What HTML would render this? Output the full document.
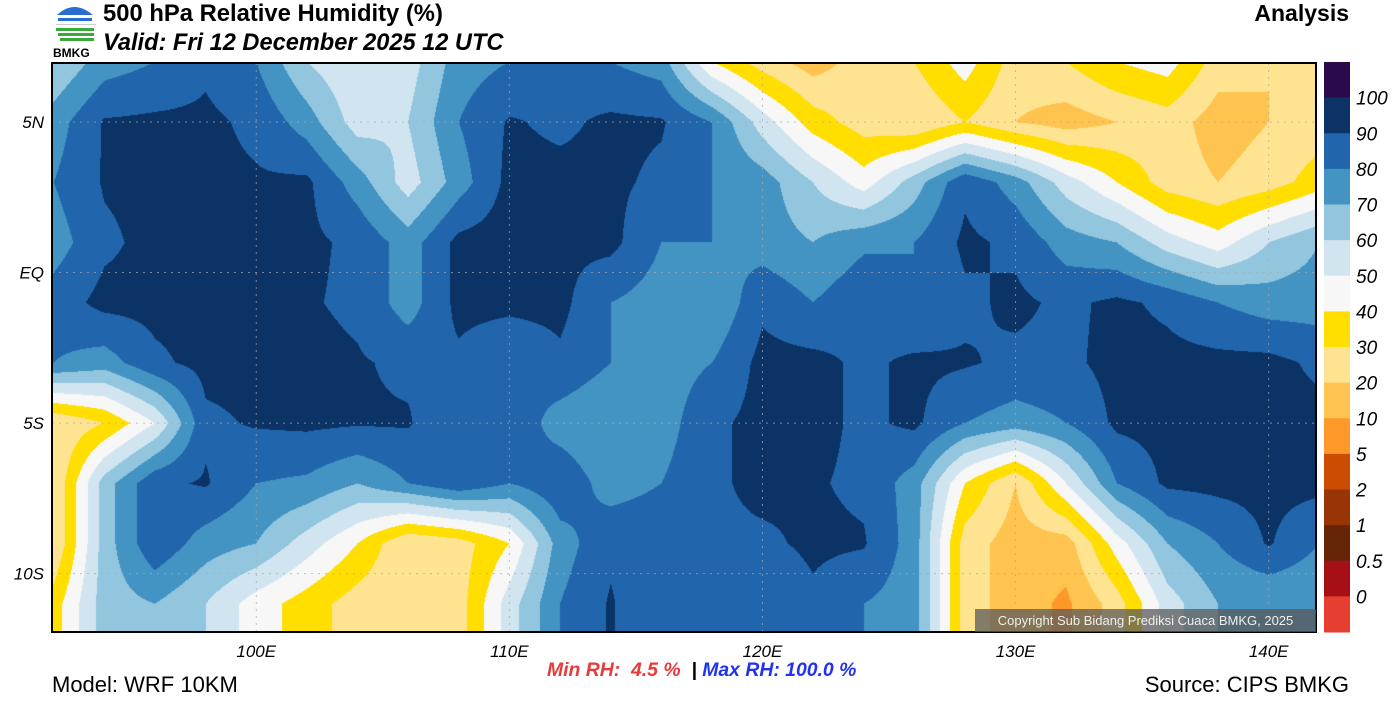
<!DOCTYPE html>
<html><head><meta charset="utf-8"><style>
body{margin:0;width:1400px;height:709px;background:#fff;font-family:"Liberation Sans",sans-serif;position:relative;overflow:hidden}
.t{position:absolute;white-space:nowrap}
</style></head><body>
<div style="position:absolute;left:52px;top:2px;width:46px;height:56px">
<svg width="46" height="56"><path d="M4 14 Q22 -4 42 14" fill="#2a6fd0"/><rect x="4" y="13" width="38" height="2" fill="#fff"/><rect x="6" y="16" width="34" height="3" fill="#2a6fd0"/><rect x="4" y="22" width="40" height="1" fill="#ccc"/><rect x="4" y="26" width="38" height="3" fill="#3aa83a"/><rect x="6" y="31" width="36" height="3" fill="#3aa83a"/><rect x="8" y="36" width="34" height="3" fill="#3aa83a"/><text x="1" y="55" font-size="12" font-weight="bold" font-family="Liberation Sans">BMKG</text></svg></div>
<div class="t" style="left:103px;top:0px;font-size:23.8px;font-weight:bold">500 hPa Relative Humidity (%)</div>
<div class="t" style="left:103px;top:30px;font-size:23.6px;font-weight:bold;font-style:italic">Valid: Fri 12 December 2025 12 UTC</div>
<div class="t" style="right:51px;top:0px;font-size:23px;font-weight:bold">Analysis</div>
<canvas id="map" width="1264" height="569" style="position:absolute;left:52px;top:63px"></canvas>
<svg id="ov" width="1400" height="709" style="position:absolute;left:0;top:0"></svg>
<div class="t" style="left:975px;top:609px;width:341px;height:23px;background:rgba(90,90,90,0.75);color:#eee;font-size:13px;line-height:23px;text-align:center">Copyright Sub Bidang Prediksi Cuaca BMKG, 2025</div>
<div class="t" style="left:52px;top:672px;font-size:22px">Model: WRF 10KM</div>
<div class="t" style="right:51px;top:672px;font-size:22px">Source: CIPS BMKG</div>
<div class="t" style="left:547px;top:659px;font-size:19.4px;font-weight:bold;font-style:italic"><span style="color:#e83a3a">Min RH:&nbsp;&nbsp;4.5 %</span> <span style="color:#000">&nbsp;|</span> <span style="color:#2233ee">Max RH: 100.0 %</span></div>
<script>
const lons=[92,94,96,98,100,102,104,106,108,110,112,114,116,118,120,122,124,126,128,130,132,134,136,138,140,142];
const lats=[7,5,3,1,-1,-3,-5,-7,-9,-11,-13];
const rh=[
[60,75,80,88,80,60,50,55,75,80,88,80,75,40,25,15,25,30,45,25,30,40,45,25,20,25],
[75,91,92,92,88,75,55,60,80,91,88,92,91,80,55,35,25,20,30,20,15,20,25,15,20,25],
[80,91,93,92,91,92,75,55,75,93,93,92,88,80,75,60,45,65,88,75,55,40,25,20,25,35],
[75,88,93,93,92,92,88,75,93,95,92,93,80,80,75,70,78,80,92,88,75,70,55,45,60,70],
[85,93,93,93,92,91,88,75,93,93,93,80,75,70,88,80,88,80,88,92,88,92,88,80,75,75],
[80,75,88,93,93,93,91,88,88,80,88,80,75,80,93,93,88,92,91,88,88,93,93,93,93,88],
[20,30,50,88,91,92,91,91,80,88,75,70,75,88,93,93,88,92,80,75,80,92,93,93,93,93],
[20,65,88,91,80,78,70,80,88,80,88,75,80,88,93,91,88,75,40,20,50,80,92,93,93,93],
[20,65,88,75,70,55,40,20,25,40,75,88,88,88,88,92,91,75,25,15,15,45,70,80,91,80],
[35,65,70,60,45,35,25,20,25,55,80,91,80,88,80,88,80,75,25,15,8,25,55,70,70,70],
[35,65,70,60,45,35,25,20,25,55,80,91,80,88,80,88,80,75,25,15,8,25,55,70,70,70]];
const levels=[0,0.5,1,2,5,10,20,30,40,50,60,70,80,90,100];
const colors=["#e63e30","#a50f15","#662506","#993404","#cc4c02","#fe9929","#fec44f","#fee391","#ffde00","#f7f7f7","#d1e5f0","#92c5de","#4393c3","#2166ac","#0c3366","#2a0a4a"];
const cbLabels=["100","90","80","70","60","50","40","30","20","10","5","2","1","0.5","0"];
const xTicks=[100,110,120,130,140], yTicks=[5,0,-5,-10];
const X0=52,X1=1316,Y0=63,Y1=632,LON0=91.93,LON1=141.87,LAT0=6.96,LAT1=-11.94;
const xs=l=>X0+(l-LON0)/(LON1-LON0)*(X1-X0);
const ys=l=>Y0+(LAT0-l)/(LAT0-LAT1)*(Y1-Y0);
function rgb(h){return [parseInt(h.substr(1,2),16),parseInt(h.substr(3,2),16),parseInt(h.substr(5,2),16)];}
const crgb=colors.map(rgb);
function cidx(v){let i=0;while(i<levels.length&&v>=levels[i])i++;return i;}
const cv=document.getElementById('map'),ctx=cv.getContext('2d');
const W=cv.width,H=cv.height,img=ctx.createImageData(W,H);
for(let py=0;py<H;py++){const lat=LAT0-(py+0.5)/H*(LAT0-LAT1);
 let r=(lats[0]-lat)/(lats[0]-lats[1]);let r0=Math.max(0,Math.min(lats.length-2,Math.floor(r)));let fr=Math.min(1,Math.max(0,r-r0));
 for(let px=0;px<W;px++){const lon=LON0+(px+0.5)/W*(LON1-LON0);
  let c=(lon-lons[0])/(lons[1]-lons[0]);let c0=Math.max(0,Math.min(lons.length-2,Math.floor(c)));let fc=Math.min(1,Math.max(0,c-c0));
  const v=(rh[r0][c0]*(1-fc)+rh[r0][c0+1]*fc)*(1-fr)+(rh[r0+1][c0]*(1-fc)+rh[r0+1][c0+1]*fc)*fr;
  const col=crgb[cidx(v)];const k=(py*W+px)*4;img.data[k]=col[0];img.data[k+1]=col[1];img.data[k+2]=col[2];img.data[k+3]=255;}}
ctx.putImageData(img,0,0);
const NS='http://www.w3.org/2000/svg',ov=document.getElementById('ov');
function mk(t,a,txt){const e=document.createElementNS(NS,t);for(const k in a)e.setAttribute(k,a[k]);if(txt!==undefined)e.textContent=txt;ov.appendChild(e);return e;}
xTicks.forEach(l=>{const x=xs(l);
 const g=mk('line',{x1:x,x2:x,y1:Y0,y2:Y1,stroke:'#aaa','stroke-opacity':0.7,'stroke-dasharray':'2,5','stroke-width':1});
 
 
 const t=mk('text',{x:x,y:657,'text-anchor':'middle','font-size':17,'font-style':'italic','font-family':'Liberation Sans'},l+'E');
 
 });
yTicks.forEach(l=>{const y=ys(l);
 const g=mk('line',{x1:X0,x2:X1,y1:y,y2:y,stroke:'#aaa','stroke-opacity':0.7,'stroke-dasharray':'2,5','stroke-width':1});
 
 
 const t=mk('text',{x:44,y:y+6,'text-anchor':'end','font-size':17,'font-style':'italic','font-family':'Liberation Sans'},l===0?'EQ':Math.abs(l)+(l>0?'N':'S'));
 
 });
const fr=mk('rect',{x:X0,y:Y0,width:X1-X0,height:Y1-Y0,fill:'none',stroke:'#000','stroke-width':2});


const CY0=62,CY1=632,bh=(CY1-CY0)/colors.length;
for(let i=0;i<colors.length;i++){
 const r=mk('rect',{x:1324,y:CY0+i*bh,width:26,height:bh+0.5,fill:colors[colors.length-1-i]});
 
 }
cbLabels.forEach((s,i)=>{
 const t=mk('text',{x:1356,y:CY0+(i+1)*bh+7,'font-size':19,'font-style':'italic','font-family':'Liberation Sans'},s);
 
 });
</script>
</body></html>
